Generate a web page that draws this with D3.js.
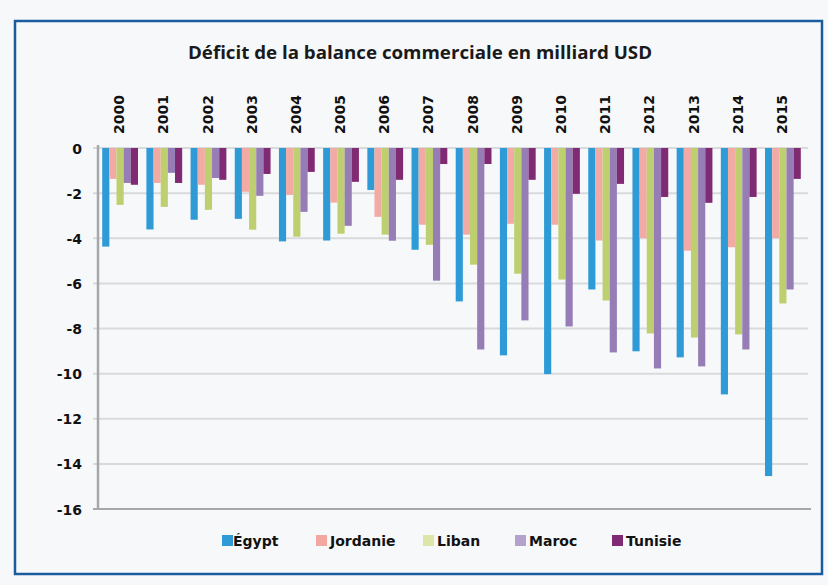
<!DOCTYPE html>
<html>
<head>
<meta charset="utf-8">
<script src="https://cdn.jsdelivr.net/npm/d3@7"></script>
<style>
  body { margin: 0; background: #f7f8fa; }
  svg { display: block; }
</style>
</head>
<body>
<div id="chart"></div>
<script>
// data (deficit, billion USD)
var years = ["2000","2001","2002","2003","2004","2005","2006","2007",
             "2008","2009","2010","2011","2012","2013","2014","2015"];
var countries = ["Égypt","Jordanie","Liban","Maroc","Tunisie"];
var egypt    = [-4.37,-3.61,-3.18,-3.14,-4.14,-4.10,-1.86,-4.51,-6.80,-9.19,-10.02,-6.27,-9.01,-9.28,-10.92,-14.54];
var jordanie = [-1.37,-1.55,-1.63,-1.94,-2.08,-2.42,-3.05,-3.40,-3.84,-3.36,-3.40,-4.10,-3.99,-4.55,-4.40,-3.99];
var liban    = [-2.52,-2.61,-2.74,-3.62,-3.93,-3.80,-3.84,-4.29,-5.17,-5.57,-5.83,-6.76,-8.22,-8.40,-8.26,-6.89];
var maroc    = [-1.55,-1.10,-1.33,-2.12,-2.83,-3.45,-4.11,-5.88,-8.93,-7.64,-7.91,-9.06,-9.77,-9.68,-8.93,-6.27];
var tunisie  = [-1.63,-1.55,-1.41,-1.15,-1.06,-1.50,-1.41,-0.71,-0.71,-1.41,-2.03,-1.59,-2.17,-2.43,-2.17,-1.37];
var yTicks = [0,-2,-4,-6,-8,-10,-12,-14,-16];

var series = [egypt, jordanie, liban, maroc, tunisie];
var barColors = ["#2e9bd6","#f2aba4","#bdcf6e","#967db6","#7f2a72"];
var swatchColors = ["#2e9bd6","#f2a8a0","#dde6a8","#b3a3cc","#7f2a72"];

var W = 828, H = 585;
var svg = d3.select("#chart").append("svg")
  .attr("width", W).attr("height", H);

svg.append("rect").attr("width", W).attr("height", H).attr("fill", "#f7f8fa");

// frame
svg.append("rect")
  .attr("x", 15).attr("y", 21).attr("width", 807).attr("height", 553)
  .attr("fill", "#f7f8fa").attr("stroke", "#1a5c9e").attr("stroke-width", 2.5);

svg.append("text")
  .attr("x", 420).attr("y", 59)
  .attr("text-anchor", "middle")
  .style("font-family", "'Open Sans', Lato, sans-serif")
  .style("font-weight", 700).style("font-size", "17px")
  .attr("textLength", 464).attr("lengthAdjust", "spacingAndGlyphs")
  .attr("fill", "#1a1a1a")
  .text("Déficit de la balance commerciale en milliard USD");

var x0 = d3.scaleBand().domain(years).range([98, 805]).paddingInner(0.19).paddingOuter(0.095);
var x1 = d3.scaleBand().domain(countries).range([0, x0.bandwidth()]);
var y = d3.scaleLinear().domain([-16, 0]).range([509, 148]);

// gridlines
svg.append("g").selectAll("line")
  .data(yTicks.filter(function(d){ return d > -16; }))
  .enter().append("line")
  .attr("x1", 93).attr("x2", 808)
  .attr("y1", function(d){ return y(d); }).attr("y2", function(d){ return y(d); })
  .attr("stroke", "#d9dadc").attr("stroke-width", 2);

// y axis labels
var yAxis = d3.axisLeft(y).tickValues(yTicks).tickSize(0).tickPadding(0)
  .tickFormat(function(d){ return d === 0 ? "0" : "-" + Math.abs(d); });
var gy = svg.append("g").attr("transform", "translate(82,0)").call(yAxis);
gy.select(".domain").remove();
gy.selectAll("text")
  .attr("dy", "0.36em")
  .style("font-family", "'DejaVu Sans', sans-serif")
  .style("font-weight", 700).style("font-size", "14px")
  .attr("fill", "#111");

// bars
var groups = svg.append("g").selectAll("g")
  .data(years).enter().append("g")
  .attr("transform", function(d){ return "translate(" + x0(d) + ",0)"; });

groups.each(function(yr, i){
  d3.select(this).selectAll("rect")
    .data(countries).enter().append("rect")
    .attr("x", function(c){ return x1(c); })
    .attr("width", x1.bandwidth())
    .attr("y", y(0))
    .attr("height", function(c, j){ return y(series[j][i]) - y(0); })
    .attr("fill", function(c, j){ return barColors[j]; });
});

// axis lines
svg.append("line").attr("x1", 98).attr("x2", 98).attr("y1", 145).attr("y2", 510)
  .attr("stroke", "#a6a7aa").attr("stroke-width", 2.5);
svg.append("line").attr("x1", 93).attr("x2", 811).attr("y1", y(-16)).attr("y2", y(-16))
  .attr("stroke", "#a6a7aa").attr("stroke-width", 2);

// year labels on top
svg.append("g").selectAll("text")
  .data(years).enter().append("text")
  .attr("transform", function(d){
    return "translate(" + (x0(d) + x0.bandwidth() / 2 - 1) + ",134) rotate(-90)";
  })
  .attr("dy", "0.36em")
  .style("font-family", "'DejaVu Sans', sans-serif")
  .style("font-weight", 700).style("font-size", "14px")
  .attr("fill", "#111")
  .text(function(d){ return d; });

// legend
var legendX = [222, 316, 423, 515, 612];
var legend = svg.append("g").selectAll("g")
  .data(countries).enter().append("g")
  .attr("transform", function(d, i){ return "translate(" + legendX[i] + ",535)"; });
legend.append("rect").attr("width", 11).attr("height", 11)
  .attr("fill", function(d, i){ return swatchColors[i]; });
legend.append("text")
  .attr("x", function(d, i){ return i === 0 ? 11 : 14; }).attr("y", 11)
  .style("font-family", "'DejaVu Sans', sans-serif")
  .style("font-weight", 700).style("font-size", "14px")
  .attr("fill", "#111")
  .text(function(d){ return d; });
</script>
</body>
</html>
